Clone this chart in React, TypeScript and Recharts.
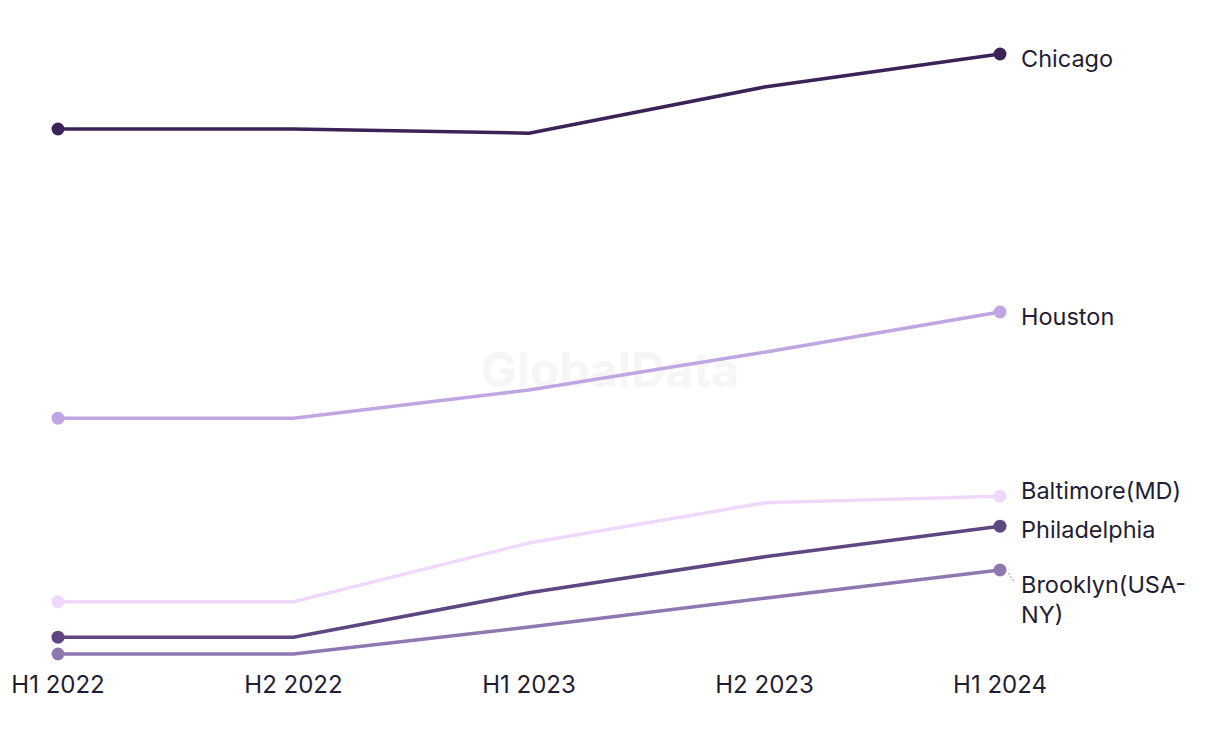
import React from "react";
import { LineChart, Line, XAxis, YAxis } from "recharts";

// periods and city series (relative index values)
const periods = ["H1 2022", "H2 2022", "H1 2023", "H2 2023", "H1 2024"];
const chicago = [87.5, 87.5, 86.8, 94.5, 100];
const houston = [39.3, 39.3, 44, 50.3, 57];
const baltimore = [8.7, 8.7, 18.5, 25.2, 26.3];
const philadelphia = [2.8, 2.8, 10.2, 16.2, 21.3];
const brooklyn = [0, 0, 4.5, 9.3, 14];

const series = [
  { key: "Chicago", values: chicago, color: "#3b2358", lines: ["Chicago"], dy: 7, leader: false },
  { key: "Houston", values: houston, color: "#c0a5e3", lines: ["Houston"], dy: 7, leader: false },
  { key: "Baltimore(MD)", values: baltimore, color: "#f0d8fb", lines: ["Baltimore(MD)"], dy: -3, leader: true },
  { key: "Philadelphia", values: philadelphia, color: "#5e4682", lines: ["Philadelphia"], dy: 6, leader: false },
  { key: "Brooklyn", values: brooklyn, color: "#8f78b0", lines: ["Brooklyn(USA-", "NY)"], dy: 17, leader: true },
];

const data = periods.map((p, i) => {
  const row: any = { period: p };
  series.forEach((s) => (row[s.key] = s.values[i]));
  return row;
});

const FONT = "Inter, 'Noto Sans', sans-serif";
const TEXT = "#1f1d35";

const Tick = ({ x, y, payload }: any) => (
  <text x={x} y={y + 31} textAnchor="middle" fontSize={24} fontFamily={FONT} fill={TEXT}>
    {payload.value}
  </text>
);

export default function App() {
  return (
    <div style={{ position: "absolute", left: 0, top: 0, width: 1220, height: 744, background: "#fff" }}>
      <div
        style={{
          position: "absolute",
          left: 0,
          width: 1220,
          top: 340,
          textAlign: "center",
          fontFamily: FONT,
          fontWeight: 700,
          fontSize: 48,
          color: "#f6f6f6",
        }}
      >
        GlobalData
      </div>
      <div style={{ position: "absolute", left: 0, top: 0 }}>
        <LineChart width={1220} height={744} data={data} margin={{ top: 54, right: 220, bottom: 50, left: 58 }}>
          <XAxis dataKey="period" axisLine={false} tickLine={false} height={40} tick={<Tick />} interval={0} />
          <YAxis hide domain={[0, 100]} />
          {series.map((s) => (
            <Line
              key={s.key}
              dataKey={s.key}
              stroke={s.color}
              strokeWidth={3.5}
              isAnimationActive={false}
              dot={(p: any) =>
                p.index === 0 || p.index === periods.length - 1 ? (
                  <circle key={p.index} cx={p.cx} cy={p.cy} r={6.5} fill={s.color} />
                ) : (
                  <g key={p.index} />
                )
              }
              activeDot={false}
              label={(p: any) => {
                if (p.index !== periods.length - 1) return <g key={p.index} />;
                const tx = p.x + 21;
                const ty = p.y + s.dy;
                return (
                  <g key={p.index}>
                    {s.leader && (
                      <line
                        x1={p.x + 8}
                        y1={p.y + (s.dy < 0 ? -3 : 3)}
                        x2={p.x + 14}
                        y2={p.y + (s.dy < 0 ? -9 : 11)}
                        stroke={s.color}
                        strokeWidth={1}
                        strokeDasharray="2 2"
                      />
                    )}
                    <text x={tx} y={ty} fontSize={23.5} fontFamily={FONT} fill={TEXT} dominantBaseline="middle">
                      {s.lines.map((l, i) => (
                        <tspan key={i} x={tx} dy={i === 0 ? 0 : 30}>
                          {l}
                        </tspan>
                      ))}
                    </text>
                  </g>
                );
              }}
            />
          ))}
        </LineChart>
      </div>
    </div>
  );
}
